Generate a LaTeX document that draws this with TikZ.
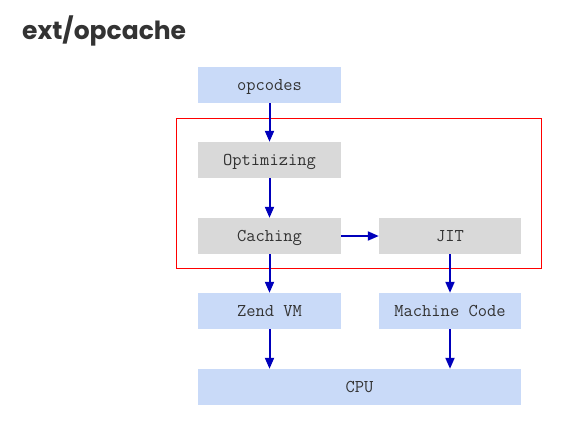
\documentclass[tikz,border=0pt]{standalone}
\usepackage{fontspec}
\newfontfamily\headfont{Poppins}
\usetikzlibrary{arrows.meta}
\definecolor{stepblue}{HTML}{C9DAF8}
\definecolor{stepgray}{HTML}{D9D9D9}
\definecolor{flowblue}{HTML}{0000BB}
\definecolor{inktext}{HTML}{333333}
\begin{document}
\begin{tikzpicture}[x=1pt, y=-1pt,
  stage/.style={fill=stepblue, minimum width=143pt, minimum height=36pt, inner sep=0pt, text height=10.5pt, text depth=0pt, text=inktext, font=\ttfamily\fontsize{18}{20}\selectfont},
  cached/.style={stage, fill=stepgray},
  flow/.style={draw=flowblue, line width=2pt, -{Triangle[length=11pt, width=9pt]}}]
\useasboundingbox (0,0) rectangle (563,421);
\node[anchor=base west, text=inktext, inner sep=0pt, font=\headfont\bfseries\fontsize{25}{28}\selectfont] (title) at (22,39) {ext/opcache};
\draw[red, line width=1pt] (176,118) rectangle (541,268);
\node[stage] (opcodes) at (269.5,85) {opcodes};
\node[cached] (optimizing) at (269.5,160) {Optimizing};
\node[cached] (caching) at (269.5,236) {Caching};
\node[cached, minimum width=142pt] (jit) at (450,236) {JIT};
\node[stage] (zendvm) at (269.5,311) {Zend VM};
\node[stage, minimum width=142pt] (machine) at (450,311) {Machine Code};
\node[stage, minimum width=323pt] (cpu) at (359.5,387) {CPU};
\draw[flow] (opcodes) -- (optimizing);
\draw[flow] (optimizing) -- (caching);
\draw[flow] (caching) -- (jit);
\draw[flow] (caching) -- (zendvm);
\draw[flow] (jit) -- (machine);
\draw[flow] (zendvm) -- (zendvm |- cpu.north);
\draw[flow] (machine) -- (machine |- cpu.north);
\end{tikzpicture}
\end{document}
